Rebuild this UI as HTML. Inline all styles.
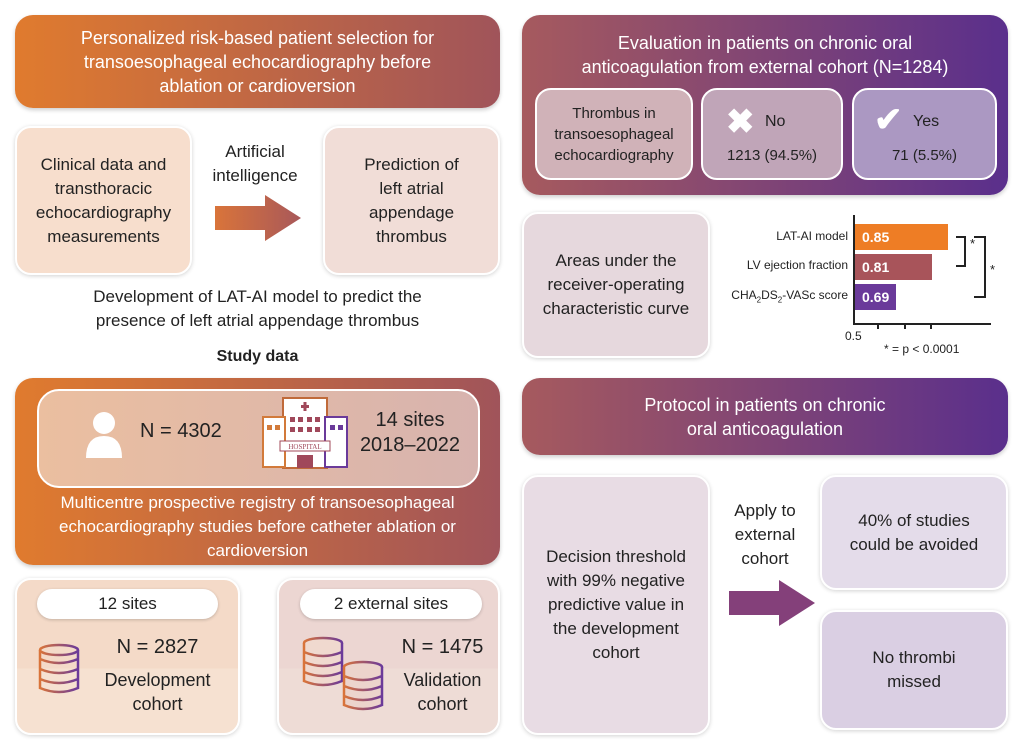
<!DOCTYPE html>
<html><head><meta charset="utf-8"><style>
*{margin:0;padding:0;box-sizing:border-box}
body{width:1024px;height:743px;background:#fff;position:relative;overflow:hidden;font-family:"Liberation Sans",sans-serif;color:#222}
.a{position:absolute}
.c{display:flex;align-items:center;justify-content:center;text-align:center}
.hdr{color:#fff;font-size:18px;line-height:24px;border-radius:18px;box-shadow:0 2px 4px rgba(0,0,0,.2)}
.or{background:linear-gradient(90deg,#e07b2e,#a0545a)}
.pu{background:linear-gradient(90deg,#a65a5e,#5a2f8c)}
.bx{border-radius:16px;font-size:17px;line-height:24px;box-shadow:0 1px 4px rgba(0,0,0,.18);border:2px solid #fff}
.in{border:2px solid #fff;border-radius:16px;font-size:15px;line-height:21px}
</style></head><body>
<!-- left top -->
<div class="a c hdr or" style="left:15px;top:15px;width:485px;height:93px">Personalized risk-based patient selection for<br>transoesophageal echocardiography before<br>ablation or cardioversion</div>
<div class="a c bx" style="left:15px;top:126px;width:177px;height:149px;background:#f7decd">Clinical data and<br>transthoracic<br>echocardiography<br>measurements</div>
<div class="a c bx" style="left:323px;top:126px;width:177px;height:149px;background:#f1ddd7">Prediction of<br>left atrial<br>appendage<br>thrombus</div>
<div class="a c" style="left:200px;top:140px;width:110px;height:48px;font-size:17px;line-height:24px">Artificial<br>intelligence</div>
<svg class="a" style="left:213px;top:193px" width="90" height="50"><defs><linearGradient id="g1"><stop offset="0" stop-color="#d9743a"/><stop offset="1" stop-color="#a8585a"/></linearGradient></defs><polygon points="2,13 52,13 52,2 88,25 52,48 52,37 2,37" fill="url(#g1)"/></svg>
<div class="a c" style="left:15px;top:284px;width:485px;height:50px;font-size:17px;line-height:24px">Development of LAT-AI model to predict the<br>presence of left atrial appendage thrombus</div>
<div class="a c" style="left:15px;top:346px;width:485px;height:22px;font-size:16px;font-weight:bold">Study data</div>
<div class="a hdr or" style="left:15px;top:378px;width:485px;height:187px"></div>
<div class="a" style="left:37px;top:389px;width:443px;height:99px;border:2px solid #fff;border-radius:22px;background:linear-gradient(90deg,#ebbfa0,#d7b3ae)"></div>
<svg class="a" style="left:84px;top:410px" width="40" height="50"><circle cx="20" cy="13" r="11" fill="#fff"/><path d="M2,48 Q2,26 20,26 Q38,26 38,48 Z" fill="#fff"/></svg>
<div class="a" style="left:140px;top:420px;font-size:20px">N = 4302</div>
<svg class="a" style="left:260px;top:395px" width="90" height="78"><rect x="23" y="3" width="44" height="70" fill="#fff" stroke="#c06a3a" stroke-width="2"/><rect x="3" y="22" width="22" height="50" fill="#fff" stroke="#d27a3a" stroke-width="2"/><rect x="65" y="22" width="22" height="50" fill="#fff" stroke="#6a3a9a" stroke-width="2"/><rect x="41" y="10" width="8" height="3" fill="#a0485a"/><rect x="43.5" y="7" width="3" height="9" fill="#a0485a"/><g fill="#a0485a"><rect x="30" y="22" width="5" height="5"/><rect x="38" y="22" width="5" height="5"/><rect x="47" y="22" width="5" height="5"/><rect x="55" y="22" width="5" height="5"/><rect x="30" y="32" width="5" height="5"/><rect x="38" y="32" width="5" height="5"/><rect x="47" y="32" width="5" height="5"/><rect x="55" y="32" width="5" height="5"/></g><rect x="7" y="30" width="5" height="5" fill="#d27a3a"/><rect x="15" y="30" width="5" height="5" fill="#d27a3a"/><rect x="70" y="30" width="5" height="5" fill="#6a3a9a"/><rect x="78" y="30" width="5" height="5" fill="#6a3a9a"/><rect x="20" y="46" width="50" height="10" fill="#fff" stroke="#a0485a"/><text x="45" y="54" font-size="7" text-anchor="middle" fill="#a0485a" font-family="Liberation Serif">HOSPITAL</text><rect x="37" y="60" width="16" height="13" fill="#a0485a"/></svg>
<div class="a c" style="left:355px;top:408px;width:110px;height:50px;font-size:20px;line-height:25px">14 sites<br>2018–2022</div>
<div class="a c" style="left:15px;top:490px;width:485px;height:74px;color:#fff;font-size:17px;line-height:24px">Multicentre prospective registry of transoesophageal<br>echocardiography studies before catheter ablation or<br>cardioversion</div>
<div class="a bx" style="left:15px;top:578px;width:225px;height:157px;background:linear-gradient(180deg,#f4dac8 58%,#f6e1d1 58%)"></div>
<div class="a bx" style="left:277px;top:578px;width:223px;height:157px;background:linear-gradient(180deg,#ecd6d2 58%,#eedcd6 58%)"></div>
<div class="a c" style="left:37px;top:589px;width:181px;height:30px;background:#fff;border-radius:15px;font-size:17px;box-shadow:0 1px 3px rgba(0,0,0,.2)">12 sites</div>
<div class="a c" style="left:300px;top:589px;width:182px;height:30px;background:#fff;border-radius:15px;font-size:17px;box-shadow:0 1px 3px rgba(0,0,0,.2)">2 external sites</div>
<defs></defs>
<svg class="a" style="left:37px;top:642px" width="48" height="56"><defs><linearGradient id="cy"><stop offset="0" stop-color="#d9743a"/><stop offset="1" stop-color="#6a3a9a"/></linearGradient></defs><g fill="none" stroke="url(#cy)" stroke-width="2.5"><ellipse cx="22" cy="8" rx="19" ry="5"/><path d="M3,8 V46 Q22,54 41,46 V8 M3,17 Q22,25 41,17 M3,27 Q22,35 41,27 M3,37 Q22,45 41,37"/></g></svg>
<div class="a c" style="left:95px;top:634px;width:125px;height:26px;font-size:20px">N = 2827</div>
<div class="a c" style="left:95px;top:668px;width:125px;height:48px;font-size:18px;line-height:24px">Development<br>cohort</div>
<svg class="a" style="left:301px;top:635px" width="90" height="80"><g fill="#f0d9cf" stroke="url(#cy)" stroke-width="2.5"><ellipse cx="22" cy="8" rx="19" ry="5"/><path d="M3,8 V46 Q22,54 41,46 V8 M3,17 Q22,25 41,17 M3,27 Q22,35 41,27 M3,37 Q22,45 41,37"/></g><g transform="translate(40,24)" fill="#ecd4cc" stroke="url(#cy)" stroke-width="2.5"><ellipse cx="22" cy="8" rx="19" ry="5"/><path d="M3,8 V46 Q22,54 41,46 V8 M3,17 Q22,25 41,17 M3,27 Q22,35 41,27 M3,37 Q22,45 41,37"/></g></svg>
<div class="a c" style="left:390px;top:634px;width:105px;height:26px;font-size:20px">N = 1475</div>
<div class="a c" style="left:390px;top:668px;width:105px;height:48px;font-size:18px;line-height:24px">Validation<br>cohort</div>

<!-- right -->
<div class="a hdr pu" style="left:522px;top:15px;width:486px;height:180px"></div>
<div class="a c" style="left:522px;top:30px;width:486px;height:50px;color:#fff;font-size:18px;line-height:24px">Evaluation in patients on chronic oral<br>anticoagulation from external cohort (N=1284)</div>
<div class="a c in" style="left:535px;top:88px;width:158px;height:92px;background:#d0b2b8">Thrombus in<br>transoesophageal<br>echocardiography</div>
<div class="a in" style="left:701px;top:88px;width:142px;height:92px;background:#c0a5b8"></div>
<div class="a in" style="left:852px;top:88px;width:145px;height:92px;background:#ab98c2"></div>
<div class="a" style="left:726px;top:104px;font-size:34px;color:#fff;font-weight:bold;line-height:36px">✖</div>
<div class="a" style="left:765px;top:113px;font-size:16px">No</div>
<div class="a c" style="left:701px;top:147px;width:142px;font-size:15px">1213 (94.5%)</div>
<div class="a" style="left:874px;top:102px;font-size:34px;color:#fff;font-weight:bold;line-height:36px">✔</div>
<div class="a" style="left:913px;top:113px;font-size:16px">Yes</div>
<div class="a c" style="left:852px;top:147px;width:145px;font-size:15px">71 (5.5%)</div>

<div class="a c bx" style="left:522px;top:212px;width:188px;height:146px;background:#e6d8dd">Areas under the<br>receiver-operating<br>characteristic curve</div>
<div class="a" style="left:853px;top:215px;width:2px;height:110px;background:#222"></div>
<div class="a" style="left:853px;top:323px;width:138px;height:2px;background:#222"></div>
<div class="a" style="left:877px;top:323px;width:2px;height:6px;background:#222"></div>
<div class="a" style="left:904px;top:323px;width:2px;height:6px;background:#222"></div>
<div class="a" style="left:930px;top:323px;width:2px;height:6px;background:#222"></div>
<div class="a" style="left:855px;top:224px;width:93px;height:26px;background:#ee7d25;color:#fff;font-size:14px;font-weight:bold;padding:5px 0 0 7px">0.85</div>
<div class="a" style="left:855px;top:254px;width:77px;height:26px;background:#a8545a;color:#fff;font-size:14px;font-weight:bold;padding:5px 0 0 7px">0.81</div>
<div class="a" style="left:855px;top:284px;width:41px;height:26px;background:#6a3a9a;color:#fff;font-size:14px;font-weight:bold;padding:5px 0 0 7px">0.69</div>
<div class="a" style="right:176px;top:229px;font-size:12px">LAT-AI model</div>
<div class="a" style="right:176px;top:258px;font-size:12px">LV ejection fraction</div>
<div class="a" style="right:176px;top:288px;font-size:12px">CHA<sub style="font-size:8px">2</sub>DS<sub style="font-size:8px">2</sub>-VASc score</div>
<div class="a" style="left:956px;top:236px;width:10px;height:31px;border:2px solid #222;border-left:none"></div>
<div class="a" style="left:970px;top:236px;font-size:13px">*</div>
<div class="a" style="left:974px;top:236px;width:12px;height:62px;border:2px solid #222;border-left:none"></div>
<div class="a" style="left:990px;top:262px;font-size:13px">*</div>
<div class="a" style="left:845px;top:329px;font-size:12px">0.5</div>
<div class="a" style="left:884px;top:342px;font-size:12px">* = p &lt; 0.0001</div>

<div class="a c hdr pu" style="left:522px;top:378px;width:486px;height:77px">Protocol in patients on chronic<br>oral anticoagulation</div>
<div class="a c bx" style="left:522px;top:475px;width:188px;height:260px;background:#e8dce4">Decision threshold<br>with 99% negative<br>predictive value in<br>the development<br>cohort</div>
<div class="a c" style="left:715px;top:498px;width:100px;height:74px;font-size:17px;line-height:24px">Apply to<br>external<br>cohort</div>
<svg class="a" style="left:727px;top:578px" width="90" height="50"><polygon points="2,13 52,13 52,2 88,25 52,48 52,37 2,37" fill="#84407a"/></svg>
<div class="a c bx" style="left:820px;top:475px;width:188px;height:115px;background:#e4dcea">40% of studies<br>could be avoided</div>
<div class="a c bx" style="left:820px;top:610px;width:188px;height:120px;background:#dacfe3">No thrombi<br>missed</div>
</body></html>
